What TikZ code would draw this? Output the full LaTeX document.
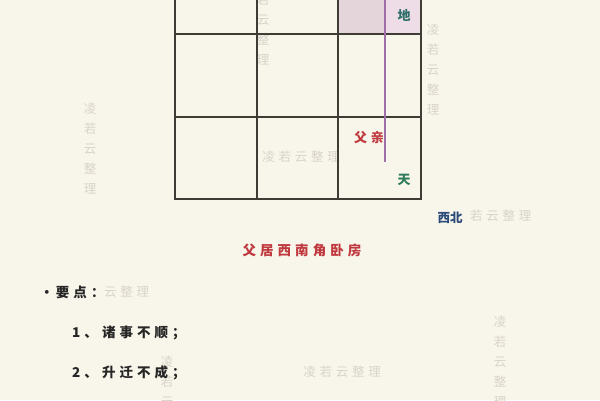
\documentclass[tikz,border=0pt]{standalone}
\usepackage{fontspec}
\newfontfamily\cjk{Noto Sans CJK SC}
\newfontfamily\cjksp[LetterSpace=30]{Noto Sans CJK SC}
\definecolor{bg}{HTML}{F8F5EA}
\definecolor{gridc}{HTML}{3F3C35}
\definecolor{wm}{HTML}{D8D4CA}
\definecolor{redt}{HTML}{C0393F}
\definecolor{greent}{HTML}{2E7D5A}
\definecolor{tealt}{HTML}{2F6F6A}
\definecolor{bluet}{HTML}{2B4A78}
\definecolor{pinkA}{HTML}{E4D5DA}
\definecolor{pinkB}{HTML}{EEDCE6}
\definecolor{purp}{HTML}{9E6FA8}
\tikzset{
  gridline/.style={draw=gridc,line width=1.6pt},
  wmh/.style={font=\cjksp\fontsize{12.5}{12.5}\selectfont,text=wm,inner sep=0},
  wmv/.style={font=\cjk\fontsize{12.5}{20}\selectfont,text=wm,inner sep=0,align=center},
  lab/.style={font=\cjk\bfseries\fontsize{13}{13}\selectfont,inner sep=0},
  body/.style={font=\cjksp\bfseries\fontsize{13.5}{13.5}\selectfont,inner sep=0,anchor=west,text=black!85}
}
\begin{document}
\begin{tikzpicture}[x=1pt,y=-1pt]
\fill[bg] (0,0) rectangle (600,400);
\useasboundingbox (0,0) rectangle (600,400);
% shaded cell
\fill[pinkA] (338,-5) rectangle (385,34);
\fill[pinkB] (385,-5) rectangle (421,34);
% watermarks
\node[wmv] (w1) at (263,30) {若\\云\\整\\理};
\node[wmv] (w2) at (433,70) {凌\\若\\云\\整\\理};
\node[wmh] (w3) at (301,157) {凌若云整理};
\node[wmv] (w4) at (90,149) {凌\\若\\云\\整\\理};
\node[wmh,anchor=west] (w5) at (470,216) {若云整理};
\node[wmh,anchor=west] (w6) at (104,292) {云整理};
\node[wmv] (w7) at (167,382) {凌\\若\\云};
\node[wmh] (w8) at (342,372) {凌若云整理};
\node[wmv] (w9) at (500,362) {凌\\若\\云\\整\\理};
% grid
\draw[gridline] (175,-5) -- (175,199);
\draw[gridline] (257,-5) -- (257,199);
\draw[gridline] (338,-5) -- (338,199);
\draw[gridline] (421,-5) -- (421,199);
\draw[gridline] (175,34) -- (421,34);
\draw[gridline] (175,117) -- (421,117);
\draw[gridline] (174.2,199) -- (421.8,199);
% purple line
\coordinate (pt) at (385,-5);
\coordinate (pb) at (385,162);
\draw[purp,line width=1.2pt] (pt) -- (pb);
% labels
\node[lab,text=tealt] (di) at (404,15) {地};
\node[lab,text=redt,font=\cjksp\bfseries\fontsize{13}{13}\selectfont] (fq) at (369,138) {父亲};
\node[lab,text=greent] (tian) at (404,180) {天};
\node[lab,text=bluet,font=\cjk\bfseries\fontsize{12.5}{12.5}\selectfont] (xb) at (450,218) {西北};
\node[lab,text=redt,font=\cjksp\bfseries\fontsize{13.5}{13.5}\selectfont] (title) at (302,250) {父居西南角卧房};
\node[body] (kp) at (40,292) {•\,要点：};
\node[body] (i1) at (72,333) {1、诸事不顺；};
\node[body] (i2) at (72,373) {2、升迁不成；};
\end{tikzpicture}
\end{document}
